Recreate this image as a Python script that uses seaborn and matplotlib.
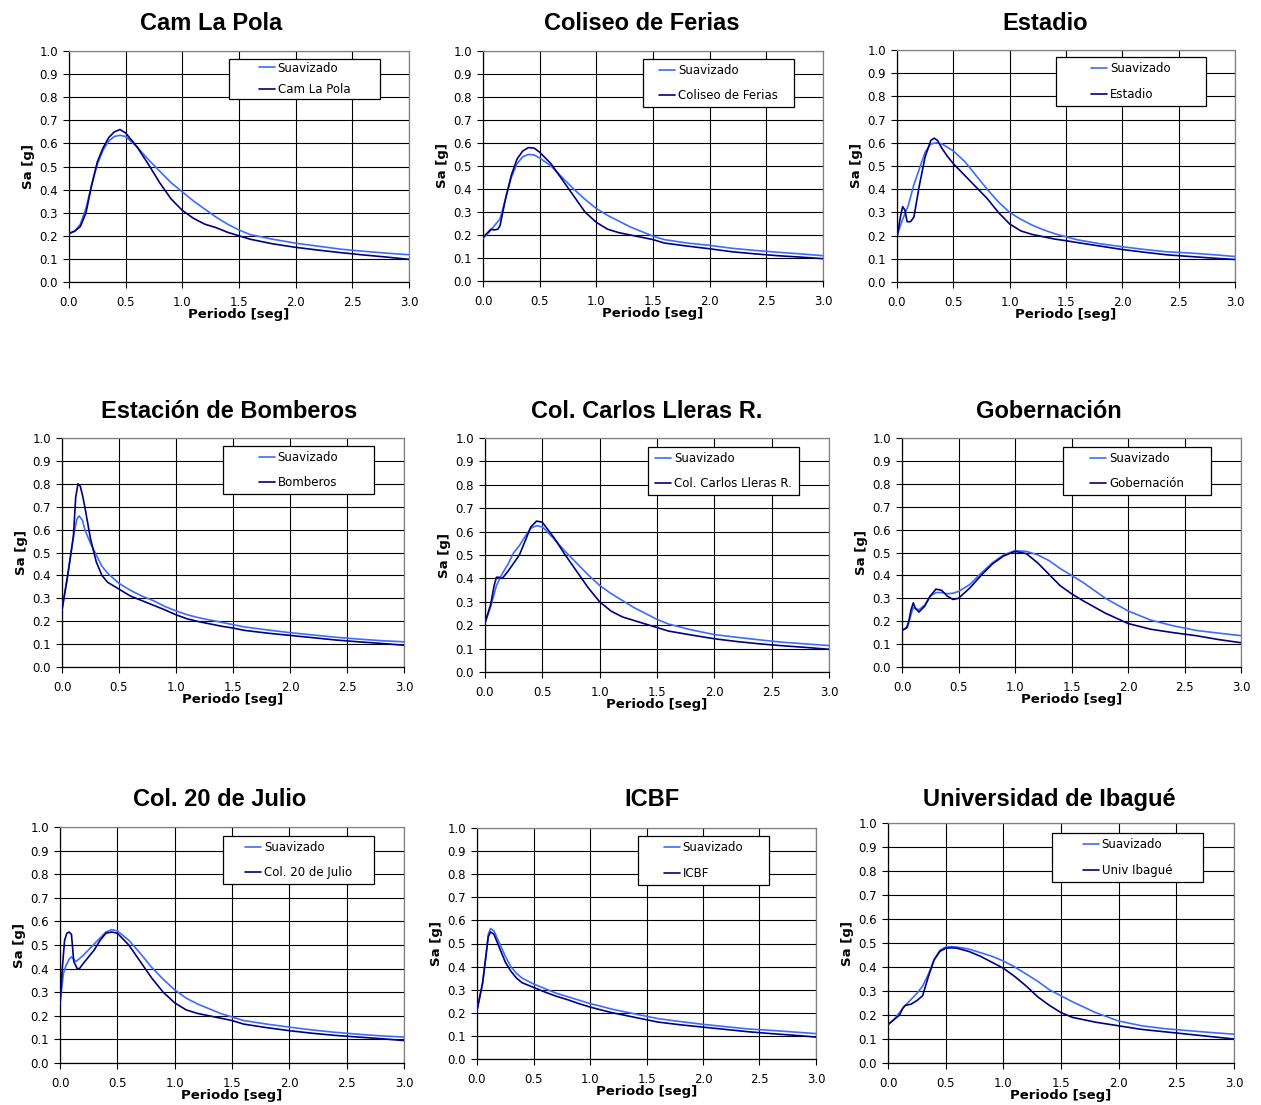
import matplotlib
matplotlib.use("Agg")
import matplotlib.pyplot as plt
from matplotlib.patches import Rectangle
import seaborn as sns
import pandas as pd

# ---------------- data ----------------
titles = ["Cam La Pola", "Coliseo de Ferias", "Estadio",
          "Estación de Bomberos", "Col. Carlos Lleras R.", "Gobernación",
          "Col. 20 de Julio", "ICBF", "Universidad de Ibagué"]
station_labels = ["Cam La Pola", "Coliseo de Ferias", "Estadio",
                  "Bomberos", "Col. Carlos Lleras R.", "Gobernación",
                  "Col. 20 de Julio", "ICBF", "Univ Ibagué"]
smooth_label = "Suavizado"

x_ticks = [0.0, 0.5, 1.0, 1.5, 2.0, 2.5, 3.0]
y_ticks = [0.0, 0.1, 0.2, 0.3, 0.4, 0.5, 0.6, 0.7, 0.8, 0.9, 1.0]

T_std = [0, 0.05, 0.1, 0.15, 0.2, 0.25, 0.3, 0.35, 0.4, 0.45, 0.5, 0.6, 0.7, 0.8, 0.9,
         1.0, 1.1, 1.2, 1.3, 1.4, 1.5, 1.6, 1.8, 2.0, 2.2, 2.4, 2.6, 2.8, 3.0]

# Cam La Pola
t_pola_s = T_std
sa_pola_s = [0.21, 0.22, 0.25, 0.32, 0.42, 0.51, 0.57, 0.61, 0.63, 0.635, 0.63, 0.585, 0.53, 0.48, 0.43,
             0.39, 0.35, 0.315, 0.28, 0.25, 0.225, 0.205, 0.185, 0.168, 0.155, 0.142, 0.133, 0.125, 0.118]
t_pola_r = T_std
sa_pola_r = [0.21, 0.22, 0.24, 0.30, 0.42, 0.52, 0.58, 0.625, 0.65, 0.66, 0.645, 0.585, 0.51, 0.43, 0.36,
             0.31, 0.275, 0.25, 0.235, 0.215, 0.20, 0.185, 0.165, 0.15, 0.138, 0.127, 0.117, 0.108, 0.098]

# Coliseo de Ferias
t_coli_s = T_std
sa_coli_s = [0.185, 0.21, 0.24, 0.27, 0.36, 0.45, 0.51, 0.54, 0.55, 0.548, 0.535, 0.50, 0.45, 0.40, 0.355,
             0.315, 0.285, 0.26, 0.235, 0.215, 0.195, 0.18, 0.165, 0.155, 0.142, 0.133, 0.125, 0.118, 0.11]
t_coli_r = [0, 0.05, 0.07, 0.1, 0.13, 0.15, 0.2, 0.25, 0.3, 0.35, 0.4, 0.45, 0.5, 0.6, 0.7, 0.8, 0.9,
            1.0, 1.1, 1.2, 1.3, 1.4, 1.5, 1.6, 1.8, 2.0, 2.2, 2.4, 2.6, 2.8, 3.0]
sa_coli_r = [0.19, 0.215, 0.225, 0.222, 0.225, 0.24, 0.36, 0.46, 0.53, 0.565, 0.58, 0.578, 0.56, 0.51, 0.44,
             0.37, 0.30, 0.255, 0.225, 0.21, 0.2, 0.19, 0.18, 0.165, 0.152, 0.14, 0.127, 0.118, 0.11, 0.104, 0.097]

# Estadio
t_esta_s = T_std
sa_esta_s = [0.2, 0.27, 0.33, 0.42, 0.49, 0.56, 0.595, 0.60, 0.595, 0.58, 0.565, 0.52, 0.46, 0.40, 0.345,
             0.30, 0.27, 0.245, 0.225, 0.208, 0.195, 0.182, 0.165, 0.152, 0.14, 0.13, 0.125, 0.118, 0.11]
t_esta_r = [0, 0.03, 0.05, 0.07, 0.09, 0.12, 0.15, 0.2, 0.25, 0.3, 0.33, 0.36, 0.4, 0.45, 0.5, 0.6, 0.7,
            0.8, 0.9, 1.0, 1.1, 1.2, 1.3, 1.4, 1.5, 1.6, 1.8, 2.0, 2.2, 2.4, 2.6, 2.8, 3.0]
sa_esta_r = [0.19, 0.28, 0.325, 0.31, 0.26, 0.26, 0.28, 0.42, 0.54, 0.61, 0.62, 0.61, 0.575, 0.54, 0.51,
             0.46, 0.41, 0.36, 0.30, 0.25, 0.22, 0.205, 0.195, 0.185, 0.178, 0.17, 0.155, 0.14, 0.128,
             0.117, 0.11, 0.103, 0.097]

# Estación de Bomberos
t_bomb_s = [0, 0.05, 0.1, 0.13, 0.15, 0.18, 0.2, 0.25, 0.3, 0.35, 0.4, 0.5, 0.6, 0.7, 0.8, 0.9,
            1.0, 1.1, 1.2, 1.3, 1.4, 1.5, 1.6, 1.8, 2.0, 2.2, 2.4, 2.6, 2.8, 3.0]
sa_bomb_s = [0.25, 0.40, 0.57, 0.645, 0.66, 0.64, 0.60, 0.54, 0.49, 0.44, 0.41, 0.365, 0.335, 0.31, 0.29,
             0.265, 0.245, 0.228, 0.215, 0.205, 0.195, 0.185, 0.175, 0.162, 0.15, 0.14, 0.13, 0.122, 0.115, 0.11]
t_bomb_r = [0, 0.05, 0.1, 0.12, 0.14, 0.16, 0.18, 0.2, 0.25, 0.3, 0.35, 0.4, 0.5, 0.6, 0.7, 0.8, 0.9,
            1.0, 1.1, 1.2, 1.3, 1.4, 1.5, 1.6, 1.8, 2.0, 2.2, 2.4, 2.6, 2.8, 3.0]
sa_bomb_r = [0.25, 0.40, 0.57, 0.74, 0.80, 0.79, 0.75, 0.70, 0.56, 0.46, 0.40, 0.37, 0.34, 0.31, 0.29,
             0.27, 0.25, 0.228, 0.21, 0.198, 0.188, 0.178, 0.17, 0.16, 0.148, 0.138, 0.128, 0.118,
             0.11, 0.103, 0.095]

# Col. Carlos Lleras R.
t_carl_s = T_std
sa_carl_s = [0.21, 0.28, 0.37, 0.42, 0.46, 0.51, 0.54, 0.58, 0.615, 0.625, 0.62, 0.57, 0.515, 0.465, 0.415,
             0.37, 0.335, 0.305, 0.275, 0.25, 0.225, 0.205, 0.18, 0.16, 0.148, 0.137, 0.127, 0.12, 0.113]
t_carl_r = [0, 0.05, 0.08, 0.1, 0.12, 0.15, 0.2, 0.25, 0.3, 0.35, 0.4, 0.45, 0.5, 0.6, 0.7, 0.8, 0.9,
            1.0, 1.1, 1.2, 1.3, 1.4, 1.5, 1.6, 1.8, 2.0, 2.2, 2.4, 2.6, 2.8, 3.0]
sa_carl_r = [0.21, 0.29, 0.37, 0.405, 0.405, 0.40, 0.43, 0.465, 0.50, 0.56, 0.62, 0.645, 0.64, 0.575, 0.50,
             0.43, 0.36, 0.30, 0.26, 0.235, 0.22, 0.205, 0.19, 0.175, 0.158, 0.142, 0.13, 0.12, 0.112,
             0.105, 0.097]

# Gobernación
t_gobe_s = [0, 0.05, 0.08, 0.1, 0.12, 0.15, 0.2, 0.25, 0.3, 0.35, 0.4, 0.45, 0.5, 0.6, 0.7, 0.8, 0.9,
            1.0, 1.1, 1.2, 1.3, 1.4, 1.5, 1.6, 1.8, 2.0, 2.2, 2.4, 2.6, 2.8, 3.0]
sa_gobe_s = [0.16, 0.175, 0.23, 0.26, 0.255, 0.25, 0.27, 0.31, 0.325, 0.325, 0.32, 0.322, 0.33, 0.36,
             0.41, 0.455, 0.49, 0.508, 0.505, 0.49, 0.465, 0.43, 0.40, 0.37, 0.30, 0.245, 0.205, 0.18,
             0.16, 0.148, 0.137]
t_gobe_r = [0, 0.04, 0.06, 0.08, 0.1, 0.12, 0.15, 0.2, 0.25, 0.3, 0.35, 0.4, 0.45, 0.5, 0.6, 0.7, 0.8,
            0.9, 1.0, 1.1, 1.2, 1.3, 1.4, 1.5, 1.6, 1.8, 2.0, 2.2, 2.4, 2.6, 2.8, 3.0]
sa_gobe_r = [0.16, 0.17, 0.2, 0.25, 0.28, 0.255, 0.24, 0.265, 0.31, 0.34, 0.335, 0.31, 0.295, 0.3, 0.345,
             0.40, 0.45, 0.485, 0.505, 0.495, 0.455, 0.405, 0.355, 0.32, 0.29, 0.235, 0.19, 0.165, 0.15,
             0.137, 0.12, 0.106]

# Col. 20 de Julio
t_juli_s = [0, 0.03, 0.05, 0.08, 0.1, 0.12, 0.14, 0.2, 0.25, 0.3, 0.35, 0.4, 0.45, 0.5, 0.6, 0.7, 0.8,
            0.9, 1.0, 1.1, 1.2, 1.3, 1.4, 1.5, 1.6, 1.8, 2.0, 2.2, 2.4, 2.6, 2.8, 3.0]
sa_juli_s = [0.25, 0.38, 0.41, 0.44, 0.45, 0.44, 0.43, 0.455, 0.48, 0.505, 0.53, 0.555, 0.565, 0.56, 0.52,
             0.465, 0.405, 0.355, 0.31, 0.275, 0.25, 0.23, 0.21, 0.195, 0.18, 0.165, 0.152, 0.14, 0.13,
             0.122, 0.115, 0.11]
t_juli_r = [0, 0.02, 0.04, 0.06, 0.08, 0.1, 0.12, 0.15, 0.17, 0.2, 0.25, 0.3, 0.35, 0.4, 0.45, 0.5, 0.6,
            0.7, 0.8, 0.9, 1.0, 1.1, 1.2, 1.3, 1.4, 1.5, 1.6, 1.8, 2.0, 2.2, 2.4, 2.6, 2.8, 3.0]
sa_juli_r = [0.25, 0.40, 0.52, 0.55, 0.555, 0.545, 0.43, 0.40, 0.40, 0.42, 0.45, 0.48, 0.52, 0.55, 0.555,
             0.55, 0.50, 0.43, 0.36, 0.30, 0.255, 0.225, 0.21, 0.20, 0.19, 0.18, 0.165, 0.15, 0.137,
             0.126, 0.117, 0.11, 0.103, 0.095]

# ICBF
t_icbf_s = [0, 0.05, 0.08, 0.1, 0.12, 0.15, 0.2, 0.25, 0.3, 0.35, 0.4, 0.5, 0.6, 0.7, 0.8, 0.9,
            1.0, 1.1, 1.2, 1.3, 1.4, 1.5, 1.6, 1.8, 2.0, 2.2, 2.4, 2.6, 2.8, 3.0]
sa_icbf_s = [0.21, 0.33, 0.45, 0.54, 0.565, 0.555, 0.50, 0.445, 0.40, 0.37, 0.35, 0.325, 0.305, 0.285,
             0.27, 0.255, 0.24, 0.228, 0.215, 0.205, 0.195, 0.185, 0.175, 0.162, 0.15, 0.14, 0.13,
             0.124, 0.117, 0.11]
t_icbf_r = t_icbf_s
sa_icbf_r = [0.21, 0.33, 0.45, 0.53, 0.55, 0.54, 0.48, 0.42, 0.38, 0.35, 0.33, 0.31, 0.29, 0.272, 0.257,
             0.24, 0.225, 0.212, 0.2, 0.19, 0.18, 0.17, 0.16, 0.148, 0.138, 0.128, 0.118, 0.11, 0.103, 0.095]

# Universidad de Ibagué
t_univ_s = [0, 0.05, 0.1, 0.15, 0.2, 0.25, 0.3, 0.35, 0.4, 0.45, 0.5, 0.55, 0.6, 0.7, 0.8, 0.9,
            1.0, 1.1, 1.2, 1.3, 1.4, 1.5, 1.6, 1.8, 2.0, 2.2, 2.4, 2.6, 2.8, 3.0]
sa_univ_s = [0.16, 0.18, 0.21, 0.24, 0.265, 0.29, 0.32, 0.37, 0.43, 0.47, 0.483, 0.485, 0.483, 0.475,
             0.46, 0.445, 0.425, 0.40, 0.37, 0.34, 0.305, 0.28, 0.255, 0.21, 0.175, 0.155, 0.143,
             0.135, 0.127, 0.12]
t_univ_r = [0, 0.05, 0.1, 0.13, 0.15, 0.2, 0.25, 0.3, 0.35, 0.4, 0.45, 0.5, 0.55, 0.6, 0.7, 0.8, 0.9,
            1.0, 1.1, 1.2, 1.3, 1.4, 1.5, 1.6, 1.8, 2.0, 2.2, 2.4, 2.6, 2.8, 3.0]
sa_univ_r = [0.16, 0.18, 0.2, 0.23, 0.24, 0.245, 0.26, 0.28, 0.36, 0.43, 0.465, 0.478, 0.48, 0.478, 0.465,
             0.445, 0.42, 0.395, 0.36, 0.32, 0.275, 0.24, 0.21, 0.19, 0.17, 0.155, 0.14, 0.13, 0.12,
             0.11, 0.10]

smooth_t = [t_pola_s, t_coli_s, t_esta_s, t_bomb_s, t_carl_s, t_gobe_s, t_juli_s, t_icbf_s, t_univ_s]
smooth_sa = [sa_pola_s, sa_coli_s, sa_esta_s, sa_bomb_s, sa_carl_s, sa_gobe_s, sa_juli_s, sa_icbf_s, sa_univ_s]
rec_t = [t_pola_r, t_coli_r, t_esta_r, t_bomb_r, t_carl_r, t_gobe_r, t_juli_r, t_icbf_r, t_univ_r]
rec_sa = [sa_pola_r, sa_coli_r, sa_esta_r, sa_bomb_r, sa_carl_r, sa_gobe_r, sa_juli_r, sa_icbf_r, sa_univ_r]

# ---------------- layout (pixels) ----------------
W, H = 1261, 1105
axes_px = [(69, 51, 409, 282), (483, 51, 823, 281), (897, 50, 1235, 282),
           (62, 438, 404, 667), (485, 438, 829, 672), (902, 438, 1241, 667),
           (60, 827, 404, 1063), (477, 828, 816, 1059), (888, 823, 1234, 1063)]
legend_px = [(229, 59, 380, 99), (643, 59, 794, 107), (1056, 57, 1206, 106),
             (223, 446, 374, 494), (648, 447, 799, 495), (1063, 447, 1211, 495),
             (223, 836, 374, 884), (638, 836, 769, 885), (1052, 833, 1203, 882)]
title_px = [(211, 30), (642, 30), (1045, 30),
            (229, 418), (647, 418), (1049, 418),
            (220, 806), (652, 806), (1049, 806)]

C_SMOOTH = "#3D6BFF"
C_REC = "#000080"

sns.set_style("white")
plt.rcParams["font.family"] = ["DejaVu Sans"]
plt.rcParams["text.color"] = "black"
plt.rcParams["axes.labelcolor"] = "black"
plt.rcParams["xtick.color"] = "black"
plt.rcParams["ytick.color"] = "black"

fig = plt.figure(figsize=(W / 100, H / 100), dpi=100)

for i in range(9):
    l, t, r, b = axes_px[i]
    ax = fig.add_axes([l / W, (H - b) / H, (r - l) / W, (b - t) / H])
    df = pd.concat([
        pd.DataFrame({"T": smooth_t[i], "Sa": smooth_sa[i], "serie": smooth_label}),
        pd.DataFrame({"T": rec_t[i], "Sa": rec_sa[i], "serie": station_labels[i]}),
    ])
    sns.lineplot(data=df, x="T", y="Sa", hue="serie", palette=[C_SMOOTH, C_REC],
                 estimator=None, sort=False, linewidth=1.2, ax=ax, legend=False, zorder=3)
    ax.set_xlim(0, 3)
    ax.set_ylim(0, 1)
    ax.set_xticks(x_ticks)
    ax.set_yticks(y_ticks)
    ax.set_xticklabels([f"{v:.1f}" for v in x_ticks])
    ax.set_yticklabels([f"{v:.1f}" for v in y_ticks])
    ax.grid(True, color="black", linewidth=0.8, zorder=0)
    ax.set_axisbelow(True)
    ax.tick_params(axis="both", labelsize=8.5, direction="out", length=4, width=0.8,
                   color="black", labelcolor="black", left=True, bottom=True)
    ax.tick_params(axis="x", pad=6)
    ax.tick_params(axis="y", pad=4)
    for s in ["left", "bottom"]:
        ax.spines[s].set_color("black")
        ax.spines[s].set_linewidth(0.9)
    for s in ["right", "top"]:
        ax.spines[s].set_color("#808080")
        ax.spines[s].set_linewidth(0.9)
    ax.set_xlabel("Periodo [seg]", fontsize=9.5, fontweight="bold", color="black")
    ax.set_ylabel("Sa [g]", fontsize=9.5, fontweight="bold", color="black")
    ax.xaxis.set_label_coords(0.5, -26 / (b - t))
    ax.yaxis.set_label_coords(-34 / (r - l), 0.5)

    # legend box
    ll, lt, lr, lb = legend_px[i]
    fx0 = (ll - l) / (r - l)
    fx1 = (lr - l) / (r - l)
    fy0 = (b - lb) / (b - t)
    fy1 = (b - lt) / (b - t)
    ax.add_patch(Rectangle((fx0, fy0), fx1 - fx0, fy1 - fy0, transform=ax.transAxes,
                           facecolor="white", edgecolor="black", linewidth=0.9, zorder=5))
    handles = [plt.Line2D([], [], color=C_SMOOTH, lw=1.2),
               plt.Line2D([], [], color=C_REC, lw=1.2)]
    leg = ax.legend(handles, [smooth_label, station_labels[i]], loc="center",
                    bbox_to_anchor=((fx0 + fx1) / 2, (fy0 + fy1) / 2),
                    frameon=False, fontsize=8.5, handlelength=1.35, handletextpad=0.25,
                    labelspacing=0.75 if i == 0 else 1.05, borderpad=0, borderaxespad=0)
    for txt in leg.get_texts():
        txt.set_color("black")
    leg.set_zorder(6)

    tx, ty = title_px[i]
    fig.text(tx / W, (H - ty) / H, titles[i], ha="center", va="baseline",
             fontsize=17, fontweight="bold", family="Liberation Sans", color="black")

fig.savefig("out.png", dpi=100)
